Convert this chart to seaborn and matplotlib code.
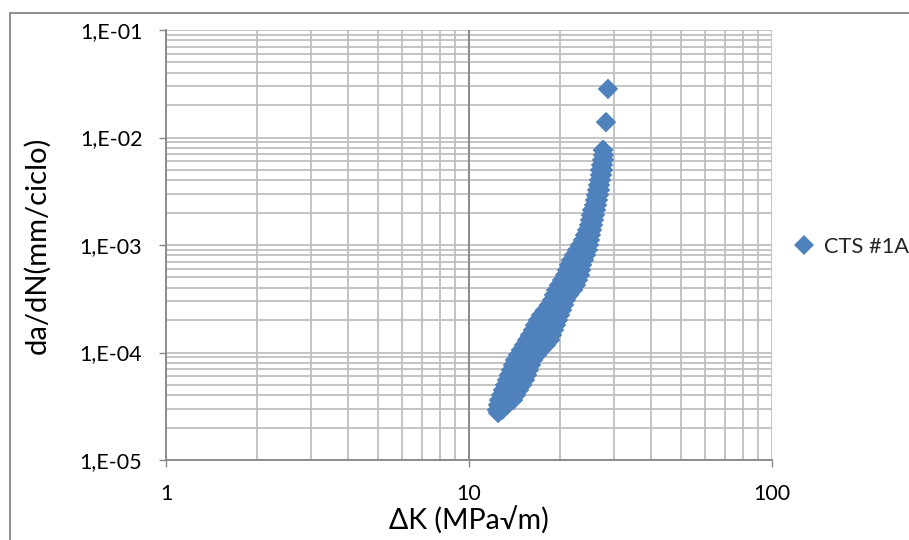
import numpy as np
import pandas as pd
import matplotlib
matplotlib.use("Agg")
import matplotlib.pyplot as plt
import seaborn as sns
from matplotlib.patches import Rectangle
from matplotlib.ticker import LogLocator, NullFormatter, FixedLocator

# ---- data (ΔK in MPa√m, da/dN in mm/ciclo) ----
band_dadn = [2.92e-5, 3.25e-5, 3.61e-5, 4.02e-5, 4.48e-5, 4.98e-5, 5.55e-5, 6.18e-5,
             6.87e-5, 7.65e-5, 8.51e-5, 9.48e-5, 1.055e-4, 1.174e-4, 1.307e-4, 1.455e-4,
             1.62e-4, 1.80e-4, 2.005e-4, 2.23e-4, 2.48e-4, 2.77e-4, 3.08e-4, 3.43e-4,
             3.81e-4, 4.24e-4, 4.72e-4, 5.26e-4, 5.85e-4, 6.52e-4, 7.25e-4, 8.07e-4,
             8.99e-4, 1.0e-3, 1.113e-3, 1.24e-3, 1.38e-3, 1.535e-3, 1.71e-3, 1.90e-3,
             2.12e-3, 2.35e-3, 2.62e-3, 2.92e-3, 3.25e-3, 3.61e-3, 4.02e-3, 4.48e-3,
             4.98e-3, 5.55e-3, 6.18e-3, 6.87e-3, 7.65e-3]
dk_left = [12.37, 12.47, 12.56, 12.75, 12.95, 13.15, 13.35, 13.55,
           13.76, 13.97, 14.18, 14.51, 14.84, 15.19, 15.54, 15.90,
           16.26, 16.51, 16.89, 17.28, 17.82, 18.37, 18.79, 19.08,
           19.37, 19.82, 20.28, 20.74, 21.06, 21.38, 21.71, 22.21,
           22.72, 23.25, 23.78, 24.15, 24.52, 24.89, 25.08, 25.27,
           25.47, 25.86, 26.05, 26.25, 26.45, 26.66, 26.86, 27.06,
           27.06, 27.27, 27.48, 27.69, 27.69]
dk_right = [12.85, 13.35, 13.97, 14.29, 14.62, 14.96, 15.30, 15.54,
            15.77, 16.02, 16.26, 16.77, 17.28, 17.95, 18.51, 18.79,
            19.08, 19.37, 19.67, 19.97, 20.28, 20.59, 20.90, 21.38,
            22.04, 22.55, 22.90, 23.25, 23.42, 23.60, 23.96, 24.33,
            24.70, 24.89, 25.08, 25.27, 25.47, 25.66, 25.86, 26.05,
            26.25, 26.45, 26.66, 26.86, 27.06, 27.06, 27.27, 27.48,
            27.69, 27.69, 27.90, 27.90, 27.69]
mid_dadn = [3.61e-5, 4.02e-5, 4.48e-5, 4.98e-5, 5.55e-5, 6.18e-5, 6.87e-5, 7.65e-5,
            8.51e-5, 9.48e-5, 1.055e-4, 1.174e-4, 1.307e-4, 1.455e-4, 1.62e-4, 1.80e-4,
            2.005e-4, 2.23e-4, 2.48e-4, 2.77e-4, 3.08e-4, 3.43e-4, 3.81e-4, 4.24e-4,
            4.72e-4, 5.26e-4, 5.85e-4, 6.52e-4, 7.25e-4, 8.07e-4, 8.99e-4, 1.0e-3]
dk_mid = [13.25, 13.45, 13.76, 14.02, 14.29, 14.51, 14.73, 14.96,
          15.19, 15.60, 16.02, 16.51, 16.96, 17.28, 17.62, 17.88,
          18.23, 18.58, 19.01, 19.44, 19.82, 20.20, 20.67, 21.14,
          21.54, 21.95, 22.21, 22.46, 22.81, 23.25, 23.69, 24.06]
extra_dk = [12.47, 28.32, 28.75]
extra_dadn = [2.74e-5, 1.39e-2, 2.83e-2]

series_name = "CTS #1A"
y_ticks = [1e-5, 1e-4, 1e-3, 1e-2, 1e-1]
y_tick_labels = ["1,E-05", "1,E-04", "1,E-03", "1,E-02", "1,E-01"]
x_ticks = [1, 10, 100]
x_tick_labels = ["1", "10", "100"]
x_label = "ΔK (MPa√m)"
y_label = "da/dN(mm/ciclo)"

df = pd.DataFrame({
    "dk": dk_left + dk_right + dk_mid + extra_dk,
    "dadn": band_dadn + band_dadn + mid_dadn + extra_dadn,
})
df["serie"] = series_name

# ---- style ----
sns.set_theme(style="white")
plt.rcParams["font.family"] = ["Lato", "DejaVu Sans"]

W, H = 909, 540
fig = plt.figure(figsize=(W / 100, H / 100), dpi=100)
ax = fig.add_axes([166 / W, 80 / H, 606 / W, 430 / H])

blue = "#4F81BD"
grid_c = "#BFBFBF"
axis_c = "#868686"

sns.scatterplot(data=df, x="dk", y="dadn", hue="serie", palette=[blue],
                marker="D", s=110, edgecolor=blue, linewidth=0, ax=ax,
                zorder=3, legend=True)

ax.set_xscale("log")
ax.set_yscale("log")
ax.set_xlim(1, 100)
ax.set_ylim(1e-5, 1e-1)

ax.xaxis.set_major_locator(FixedLocator(x_ticks))
ax.set_xticklabels(x_tick_labels)
ax.yaxis.set_major_locator(FixedLocator(y_ticks))
ax.set_yticklabels(y_tick_labels)
ax.xaxis.set_minor_locator(LogLocator(base=10, subs=np.arange(2, 10)))
ax.yaxis.set_minor_locator(LogLocator(base=10, subs=np.arange(2, 10)))
ax.xaxis.set_minor_formatter(NullFormatter())
ax.yaxis.set_minor_formatter(NullFormatter())

ax.grid(which="both", color=grid_c, linewidth=1.3)
ax.set_axisbelow(True)
ax.axvline(10, color=axis_c, linewidth=1.3, zorder=1.5)

ax.tick_params(which="major", direction="out", length=5, width=1, color=axis_c,
               labelsize=15.5, pad=12, labelcolor="black")
ax.tick_params(which="minor", length=0)
ax.tick_params(axis="x", which="major", bottom=True)
ax.tick_params(axis="y", which="major", left=True)

for side in ["top", "right"]:
    ax.spines[side].set_visible(False)
for side in ["left", "bottom"]:
    ax.spines[side].set_color(axis_c)
    ax.spines[side].set_linewidth(1.3)

ax.set_xlabel(x_label, fontsize=20.5, color="black")
ax.xaxis.set_label_coords(0.5, -0.108)
ax.set_ylabel(y_label, fontsize=21, color="black")
ax.yaxis.set_label_coords(-0.19, 0.5)

handles, labels = ax.get_legend_handles_labels()
ax.legend(handles, labels, loc="center left", bbox_to_anchor=(792.6 / W, 1 - 247 / H),
          bbox_transform=fig.transFigure, frameon=False, fontsize=15.7,
          handlelength=1.0, handletextpad=0.42, borderpad=0, borderaxespad=0)

fig.patches.append(Rectangle((10 / W, -0.1), 1.2, (H - 13) / H + 0.1,
                             transform=fig.transFigure, fill=False,
                             edgecolor=axis_c, linewidth=1.3, zorder=0))

fig.savefig("out.png", dpi=100)
